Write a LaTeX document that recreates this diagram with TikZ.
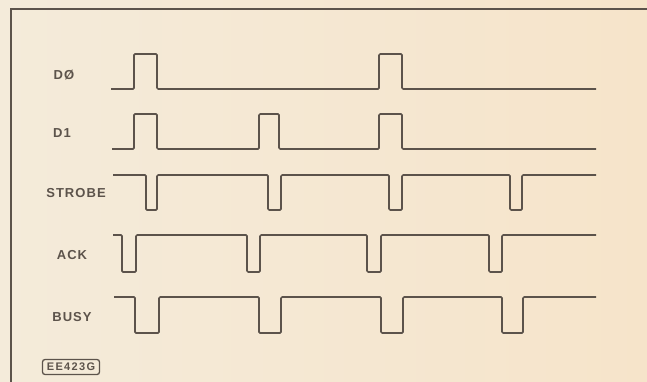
\documentclass[tikz,border=0pt]{standalone}
\usepackage{fontspec}
\setmainfont{Liberation Sans}
\usepackage{xcolor}
\usepackage{tikz}
\definecolor{paper}{HTML}{F4EBDA}
\definecolor{paperright}{HTML}{F6E4CA}
\definecolor{ink}{HTML}{5C534B}

\begin{document}
\begin{tikzpicture}[
  x=1pt, y=-1pt,
  wave/.style={draw=ink, line width=1.7pt, rounded corners=1.2pt},
  sig/.style={text=ink, font=\fontsize{13}{13}\selectfont\bfseries\addfontfeature{LetterSpace=8}, inner sep=0pt},
  tag/.style={draw=ink, line width=1.3pt, rounded corners=2.5pt, text=ink, minimum width=57pt, minimum height=15pt, inner sep=0pt, font=\fontsize{11}{11}\selectfont\bfseries\addfontfeature{LetterSpace=12}}
]
\shade[left color=paper, right color=paperright] (0,0) rectangle (647,382);
\useasboundingbox (0,0) rectangle (647,382);

% frame
\draw[ink, line width=1.2pt] (11,382) |- (647,9);

% labels
\node[sig] (d0) at (64,75) {DØ};
\node[sig] (d1) at (62,133) {D1};
\node[sig] (strobe) at (76,193) {STROBE};
\node[sig] (ack) at (72,255) {ACK};
\node[sig] (busy) at (72,317) {BUSY};
\node[tag] (fig) at (71,367) {EE423G};

% waveforms
\draw[wave] (111,89) -| (134,54) -| (157,89) -| (379,54) -| (402,89) -- (596,89);
\draw[wave] (112,149) -| (134,114) -| (157,149) -| (259,114) -| (279,149) -| (379,114) -| (402,149) -- (596,149);
\draw[wave] (113,175) -| (146,210) -| (157,175) -| (268,210) -| (281,175) -| (389,210) -| (402,175) -| (510,210) -| (522,175) -- (596,175);
\draw[wave] (113,235) -| (122,272) -| (136,235) -| (247,272) -| (260,235) -| (367,272) -| (381,235) -| (489,272) -| (502,235) -- (596,235);
\draw[wave] (114,297) -| (135,333) -| (159,297) -| (259,333) -| (281,297) -| (381,333) -| (403,297) -| (502,333) -| (523,297) -- (596,297);
\end{tikzpicture}
\end{document}
